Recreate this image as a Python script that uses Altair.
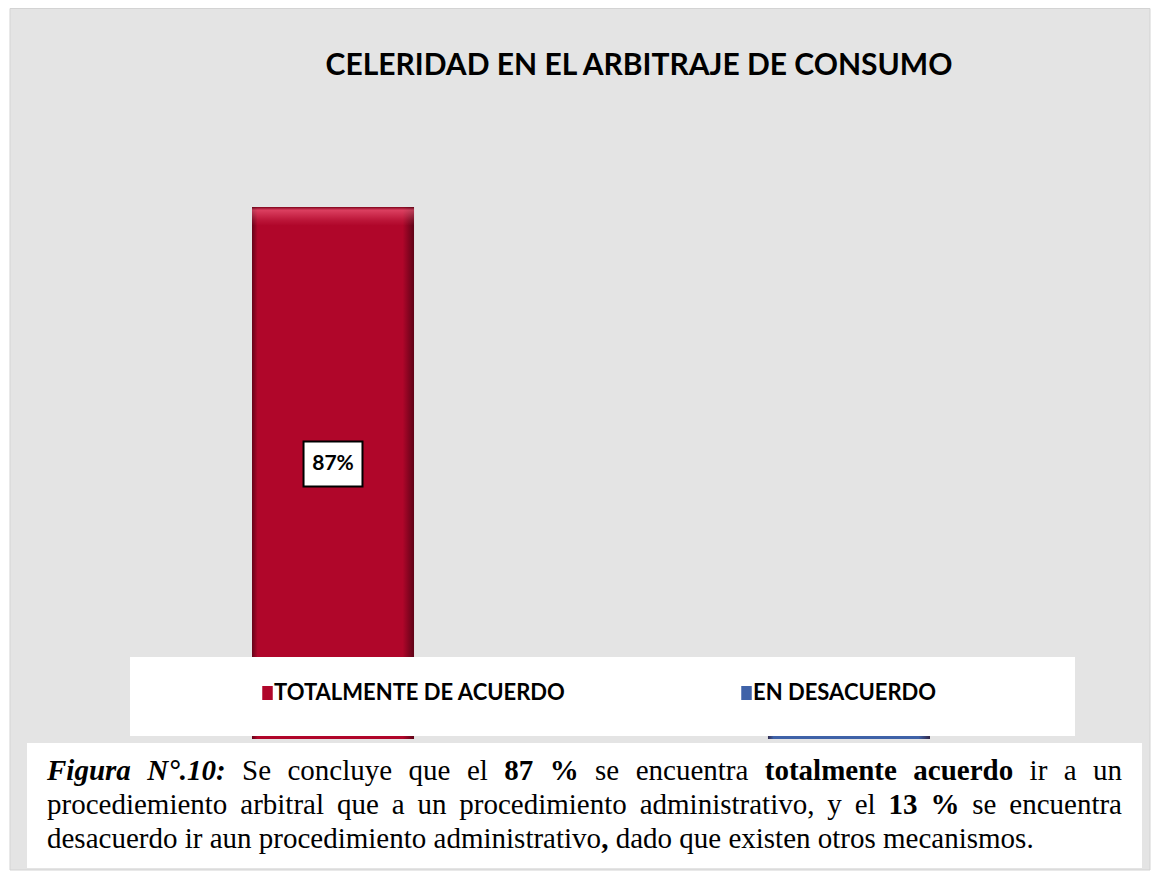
import re
import altair as alt
import pandas as pd

# ---------------- data ----------------
categories = ["TOTALMENTE DE ACUERDO", "EN DESACUERDO"]
percentages = [87, 13]
bar_labels = ["87%", "13%"]
bar_colors = ["#b0062a", "#3f62a8"]
chart_title = "CELERIDAD EN EL ARBITRAJE DE CONSUMO"
caption_lines = [
    "***Figura N°.10:*** Se concluye que el **87 %** se encuentra **totalmente acuerdo** ir a un",
    "procediemiento arbitral que a un procedimiento administrativo, y el **13 %** se encuentra",
    "desacuerdo ir aun procedimiento administrativo**,** dado que existen otros mecanismos.",
]
caption_justified = [True, True, False]

# ---------------- layout ----------------
W, H = 1143, 863
CAP_FS = 29
CAP_LEFT, CAP_RIGHT = 39, 1114
CAP_BASELINES = [772, 806, 840]

# Times-compatible advance widths (1/1000 em) for caption justification
W_R = {" ": 250, "%": 833, ",": 250, ".": 250, ":": 278, "S": 556, "a": 444, "b": 500,
       "c": 444, "d": 500, "e": 444, "f": 333, "g": 500, "h": 500, "i": 278, "l": 278,
       "m": 778, "n": 500, "o": 500, "p": 500, "q": 500, "r": 333, "s": 389, "t": 278,
       "u": 500, "v": 500, "x": 500, "y": 500}
W_B = {" ": 250, "%": 1000, ",": 250, "1": 500, "3": 500, "7": 500, "8": 500, "a": 500,
       "c": 444, "d": 556, "e": 444, "l": 278, "m": 833, "n": 556, "o": 500, "r": 444,
       "t": 333, "u": 556}
W_BI = {" ": 250, "F": 667, "i": 278, "g": 500, "u": 556, "r": 389, "a": 500, "N": 722,
        "°": 400, ".": 250, "1": 500, "0": 500, ":": 333}
TABLES = {"r": W_R, "b": W_B, "bi": W_BI}


def parse_runs(line):
    runs = []
    for m in re.finditer(r"\*\*\*(.+?)\*\*\*|\*\*(.+?)\*\*|([^*]+)", line):
        if m.group(1):
            runs.append((m.group(1), "bi"))
        elif m.group(2):
            runs.append((m.group(2), "b"))
        else:
            runs.append((m.group(3), "r"))
    return runs


def split_words(runs):
    words, cur = [], []
    for text, st in runs:
        for ch in text:
            if ch == " ":
                if cur:
                    words.append(cur)
                    cur = []
            else:
                if cur and cur[-1][1] == st:
                    cur[-1] = (cur[-1][0] + ch, st)
                else:
                    cur.append((ch, st))
    if cur:
        words.append(cur)
    return words


def part_width(text, st):
    tab = TABLES[st]
    return sum(tab.get(c, 500) for c in text) * CAP_FS / 1000.0


rows = []
for line, just, base in zip(caption_lines, caption_justified, CAP_BASELINES):
    words = split_words(parse_runs(line))
    widths = [sum(part_width(t, s) for t, s in w) for w in words]
    if just and len(words) > 1:
        gap = (CAP_RIGHT - CAP_LEFT - sum(widths)) / (len(words) - 1)
    else:
        gap = 0.25 * CAP_FS
    xpos = CAP_LEFT
    for w, ww in zip(words, widths):
        for t, s in w:
            rows.append({"txt": t, "px": xpos, "py": base, "st": s})
            xpos += part_width(t, s)
        xpos += gap
cap_df = pd.DataFrame(rows)

df = pd.DataFrame({"cat": categories, "value": percentages, "label": bar_labels})
one = pd.DataFrame({"k": [0]})

x_scale = alt.Scale(type="band", domain=categories, range=[244, 922], paddingInner=0.686, paddingOuter=0)
y_scale = alt.Scale(domain=[0, 100], range=[731, 119.5], nice=False)
x_enc = alt.X("cat:N", scale=x_scale, axis=None)
y_enc = alt.Y("value:Q", scale=y_scale, axis=None)
color_enc = alt.Color("cat:N", scale=alt.Scale(domain=categories, range=bar_colors), legend=None)

panel = alt.Chart(one).mark_rect(fill="#e4e4e4", stroke="#d3d3d3", strokeWidth=1).encode(
    x=alt.value(2), x2=alt.value(1142), y=alt.value(0.5), y2=alt.value(862)
)

title = alt.Chart(pd.DataFrame({"t": [chart_title]})).mark_text(
    font="Lato", fontWeight="bold", fontSize=30, color="black", align="center", baseline="middle"
).encode(text="t:N", x=alt.value(631), y=alt.value(58))

bars = alt.Chart(df).mark_bar().encode(x=x_enc, y=y_enc, color=color_enc)

side_shade = alt.Chart(df).mark_bar(
    fill=alt.LinearGradient(
        gradient="linear", x1=0, y1=0, x2=1, y2=0,
        stops=[
            alt.GradientStop(offset=0, color="rgba(40,0,10,0.55)"),
            alt.GradientStop(offset=0.035, color="rgba(40,0,10,0)"),
            alt.GradientStop(offset=0.93, color="rgba(40,0,10,0)"),
            alt.GradientStop(offset=1, color="rgba(40,0,10,0.6)"),
        ],
    )
).encode(x=x_enc, y=y_enc)

top_shade = alt.Chart(df).mark_bar(
    fill=alt.LinearGradient(
        gradient="linear", x1=0, y1=0, x2=0, y2=1,
        stops=[
            alt.GradientStop(offset=0, color="rgba(90,0,15,0.6)"),
            alt.GradientStop(offset=0.006, color="rgba(255,110,140,0.55)"),
            alt.GradientStop(offset=0.025, color="rgba(255,110,140,0.15)"),
            alt.GradientStop(offset=0.035, color="rgba(255,110,140,0)"),
            alt.GradientStop(offset=1, color="rgba(255,110,140,0)"),
        ],
    )
).encode(x=x_enc, y=y_enc)

# data labels (the short bar's label would sit hidden behind the legend panel)
label_base = alt.Chart(df).transform_filter("datum.value >= 20").transform_calculate(mid="datum.value / 2")

label_box = label_base.mark_point(
    shape="M-1.31,-1H1.31V1H-1.31Z", size=2025, filled=True, fill="white",
    stroke="black", strokeWidth=2, opacity=1, yOffset=-9
).encode(x=x_enc, y=alt.Y("mid:Q", scale=y_scale, axis=None))

label_text = label_base.mark_text(
    font="Lato", fontWeight="bold", fontSize=21, color="black", baseline="middle", yOffset=-9
).encode(x=x_enc, y=alt.Y("mid:Q", scale=y_scale, axis=None), text="label:N")

legend_box = alt.Chart(one).mark_rect(fill="white").encode(
    x=alt.value(122), x2=alt.value(1067), y=alt.value(649), y2=alt.value(728)
)

leg_df = pd.DataFrame({"cat": categories, "sx": [259.5, 738.5], "tx": [266, 745], "ly": [685, 685]})
legend_sym = alt.Chart(leg_df).mark_point(
    shape="M-0.75,-1H0.75V1H-0.75Z", size=196, filled=True, opacity=1
).encode(
    x=alt.X("sx:Q", scale=None, axis=None), y=alt.Y("ly:Q", scale=None, axis=None), color=color_enc
)
legend_txt = alt.Chart(leg_df).mark_text(
    font="Lato", fontWeight="bold", fontSize=22, color="black", align="left", baseline="middle"
).encode(
    x=alt.X("tx:Q", scale=None, axis=None), y=alt.Y("ly:Q", scale=None, axis=None), text="cat:N"
)

caption_box = alt.Chart(one).mark_rect(fill="white").encode(
    x=alt.value(19), x2=alt.value(1134), y=alt.value(735), y2=alt.value(860)
)


def cap_layer(style, **kw):
    return alt.Chart(cap_df).transform_filter(alt.datum.st == style).mark_text(
        font="Liberation Serif", fontSize=CAP_FS, color="black", align="left",
        baseline="alphabetic", **kw
    ).encode(
        x=alt.X("px:Q", scale=None, axis=None),
        y=alt.Y("py:Q", scale=None, axis=None),
        text="txt:N",
    )


cap_r = cap_layer("r")
cap_b = cap_layer("b", fontWeight="bold")
cap_bi = cap_layer("bi", fontWeight="bold", fontStyle="italic")

chart = alt.layer(
    panel, title, bars, side_shade, top_shade, label_box, label_text,
    legend_box, legend_sym, legend_txt, caption_box, cap_r, cap_b, cap_bi
).resolve_scale(x="independent", y="independent").properties(
    width=W, height=H, padding=0, background="white",
    autosize=alt.AutoSizeParams(type="none"),
).configure_view(strokeWidth=0)

chart.save("out.html", embed_options={"renderer": "svg", "actions": False})
